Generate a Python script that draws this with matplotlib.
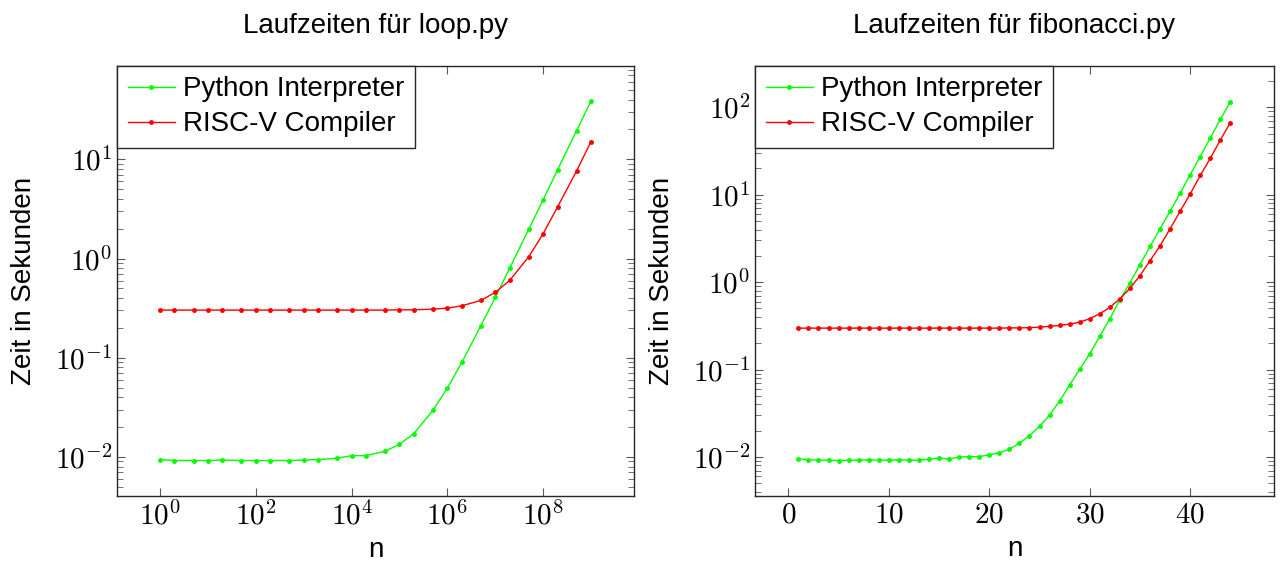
import matplotlib
matplotlib.use('Agg')
import matplotlib.pyplot as plt
import matplotlib.ticker as mticker
import numpy as np

plt.rcParams['font.family'] = ['Liberation Sans', 'DejaVu Sans']
plt.rcParams['mathtext.fontset'] = 'cm'

# loop.py: n = 1, 2, 5, 10, ... , 1e9
loop_n = [1, 2, 5, 1e1, 2e1, 5e1, 1e2, 2e2, 5e2, 1e3, 2e3, 5e3, 1e4, 2e4, 5e4,
          1e5, 2e5, 5e5, 1e6, 2e6, 5e6, 1e7, 2e7, 5e7, 1e8, 2e8, 5e8, 1e9]
loop_python = [0.0094, 0.0092, 0.0092, 0.0092, 0.0093, 0.0092, 0.0092, 0.0092, 0.0092,
               0.0093, 0.0094, 0.0097, 0.0103, 0.0103, 0.0114, 0.0134, 0.0172, 0.0295,
               0.0495, 0.0895, 0.21, 0.405, 0.80, 1.97, 3.9, 7.83, 19.5, 38.7]
loop_riscv = [0.302, 0.302, 0.302, 0.302, 0.302, 0.302, 0.302, 0.302, 0.302, 0.302,
              0.302, 0.302, 0.302, 0.302, 0.302, 0.304, 0.304, 0.309, 0.316, 0.334,
              0.378, 0.456, 0.602, 1.04, 1.78, 3.31, 7.65, 15.1]

# fibonacci.py: n = 1 .. 44
fib_n = list(range(1, 45))
fib_python = [0.0096, 0.0093, 0.0092, 0.0092, 0.0091, 0.0092, 0.0092, 0.0093, 0.0092,
              0.0092, 0.0093, 0.0092, 0.0092, 0.0095, 0.0097, 0.0095, 0.0100, 0.0101,
              0.0101, 0.0106, 0.0112, 0.0123, 0.0144, 0.0176, 0.0224, 0.0302, 0.0436,
              0.0668, 0.1005, 0.152, 0.240, 0.382, 0.629, 0.984, 1.59, 2.56, 4.08,
              6.48, 10.4, 17.0, 27.3, 44.7, 72.9, 116]
fib_riscv = [0.298, 0.298, 0.298, 0.298, 0.298, 0.298, 0.298, 0.298, 0.298, 0.298,
             0.298, 0.298, 0.298, 0.298, 0.298, 0.298, 0.298, 0.298, 0.298, 0.298,
             0.298, 0.300, 0.300, 0.302, 0.306, 0.312, 0.320, 0.331, 0.349, 0.382,
             0.435, 0.514, 0.646, 0.848, 1.19, 1.76, 2.61, 4.08, 6.48, 10.2, 16.6,
             26.1, 42.4, 66.8]

fig = plt.figure(figsize=(12.8, 5.63), dpi=100)
ax1 = fig.add_axes([0.0914, 0.119, 0.404, 0.764])
ax2 = fig.add_axes([0.590, 0.119, 0.405, 0.764])

FS = 20
pow_fmt = mticker.FuncFormatter(lambda v, p: r'$10^{%d}$' % round(np.log10(v)))
int_fmt = mticker.FuncFormatter(lambda v, p: r'$%d$' % v)

for ax, xs, py, rv, title in [(ax1, loop_n, loop_python, loop_riscv, 'Laufzeiten für loop.py'),
                             (ax2, fib_n, fib_python, fib_riscv, 'Laufzeiten für fibonacci.py')]:
    ax.plot(xs, py, color='#00ff00', lw=1.0, marker='o', ms=2.5, label='Python Interpreter')
    ax.plot(xs, rv, color='#ff0000', lw=1.0, marker='o', ms=2.5, label='RISC-V Compiler')
    ax.set_yscale('log')
    ax.set_title(title, fontsize=FS, pad=24)
    ax.set_xlabel('n', fontsize=FS, labelpad=5)
    ax.set_ylabel('Zeit in Sekunden', fontsize=FS, labelpad=13)
    ax.yaxis.set_major_locator(mticker.LogLocator(base=10, numticks=20))
    ax.yaxis.set_minor_locator(mticker.LogLocator(base=10, subs=np.arange(2, 10), numticks=20))
    ax.yaxis.set_major_formatter(pow_fmt)
    ax.yaxis.set_minor_formatter(mticker.NullFormatter())
    ax.tick_params(which='both', direction='in', top=True, right=True, color='0.35',
                   labelsize=21)
    ax.tick_params(which='major', length=6, width=0.8)
    ax.tick_params(which='minor', length=4, width=0.6)
    for s in ax.spines.values():
        s.set_linewidth(1.0)
        s.set_color('0.15')
    leg = ax.legend(loc='upper left', fontsize=FS, frameon=True, fancybox=False,
                    borderaxespad=0, handlelength=1.7, handletextpad=0.3,
                    borderpad=0.38, labelspacing=0.32, framealpha=1)
    leg.get_frame().set_edgecolor('0.15')
    leg.get_frame().set_linewidth(1.0)

ax1.set_xscale('log')
ax1.set_xlim(10 ** -0.9, 10 ** 9.9)
ax1.set_ylim(10 ** -2.394, 10 ** 1.942)
ax1.xaxis.set_major_locator(mticker.FixedLocator([1, 1e2, 1e4, 1e6, 1e8]))
ax1.xaxis.set_minor_locator(mticker.NullLocator())
ax1.xaxis.set_major_formatter(pow_fmt)

ax2.set_xlim(-3.3, 48.3)
ax2.set_ylim(10 ** -2.446, 10 ** 2.474)
ax2.xaxis.set_major_locator(mticker.FixedLocator([0, 10, 20, 30, 40]))
ax2.xaxis.set_major_formatter(int_fmt)

fig.savefig('out.png', dpi=100)
